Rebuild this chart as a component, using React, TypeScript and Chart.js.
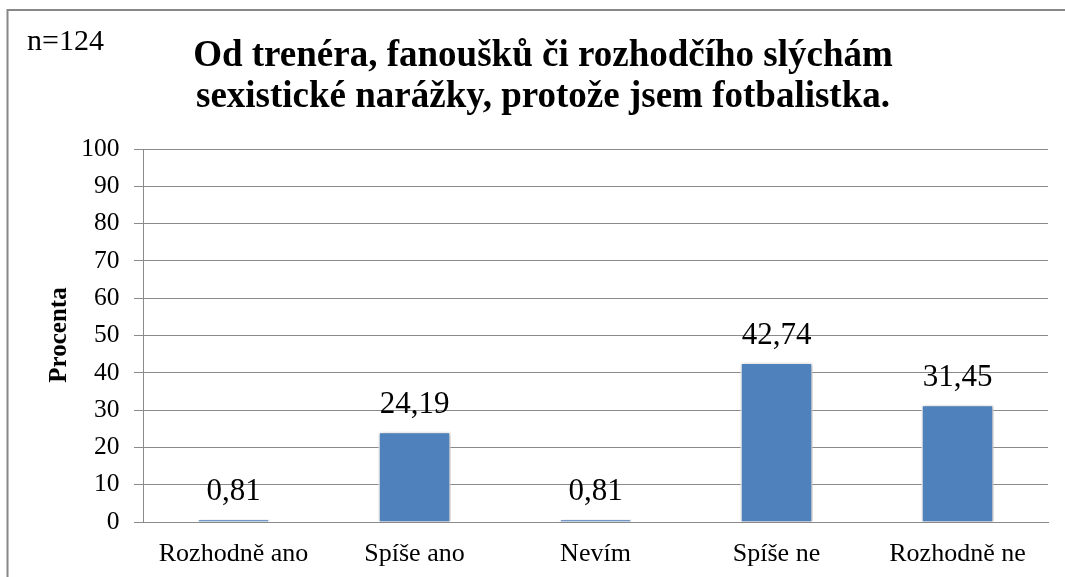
import React, { useEffect, useRef } from "react";
import { Chart, registerables } from "chart.js";

Chart.register(...registerables);

const categories = ["Rozhodně ano", "Spíše ano", "Nevím", "Spíše ne", "Rozhodně ne"];
const values = [0.81, 24.19, 0.81, 42.74, 31.45];
const titleLines = [
  "Od trenéra, fanoušků či rozhodčího slýchám",
  "sexistické narážky, protože jsem fotbalistka.",
];
const sampleNote = "n=124";
const yAxisTitle = "Procenta";

const SERIF = "'Liberation Serif', 'Times New Roman', serif";
const GRID = "#8a8a8a";

const decorPlugin = {
  id: "decor",
  beforeDraw(chart: any) {
    const ctx = chart.ctx;
    ctx.save();
    ctx.fillStyle = "#ffffff";
    ctx.fillRect(0, 0, chart.width, chart.height);
    ctx.strokeStyle = "#888888";
    ctx.lineWidth = 2;
    ctx.strokeRect(7.5, 10, 3000, 3000);
    ctx.restore();
  },
  beforeDatasetsDraw(chart: any) {
    const ctx = chart.ctx;
    ctx.save();
    ctx.shadowColor = "rgba(0,0,0,0.35)";
    ctx.shadowBlur = 4;
    ctx.shadowOffsetX = 1;
    ctx.shadowOffsetY = 1;
  },
  afterDatasetsDraw(chart: any) {
    const ctx = chart.ctx;
    ctx.restore();
    ctx.save();
    ctx.fillStyle = "#000000";
    ctx.textAlign = "center";
    ctx.textBaseline = "alphabetic";
    ctx.font = `31px ${SERIF}`;
    const meta = chart.getDatasetMeta(0);
    meta.data.forEach((bar: any, i: number) => {
      const txt = values[i].toFixed(2).replace(".", ",");
      ctx.fillText(txt, bar.x, bar.y - 19);
    });
    ctx.restore();
  },
  afterDraw(chart: any) {
    const ctx = chart.ctx;
    ctx.save();
    ctx.fillStyle = "#000000";
    ctx.textBaseline = "alphabetic";
    ctx.textAlign = "left";
    ctx.font = `30px ${SERIF}`;
    ctx.fillText(sampleNote, 27, 50);
    ctx.textAlign = "center";
    ctx.font = `bold 37px ${SERIF}`;
    ctx.fillText(titleLines[0], 543, 66);
    ctx.fillText(titleLines[1], 543, 107);
    ctx.translate(66, 335);
    ctx.rotate(-Math.PI / 2);
    ctx.font = `bold 25px ${SERIF}`;
    ctx.fillText(yAxisTitle, 0, 0);
    ctx.restore();
  },
};

export default function App() {
  const ref = useRef<HTMLCanvasElement | null>(null);
  useEffect(() => {
    if (!ref.current) return;
    const chart = new Chart(ref.current, {
      type: "bar",
      data: {
        labels: categories,
        datasets: [
          {
            data: values,
            backgroundColor: "#4F81BD",
            borderColor: "#ffffff",
            borderWidth: 1.5,
            categoryPercentage: 1,
            barPercentage: 0.4,
          },
        ],
      },
      options: {
        responsive: false,
        animation: false,
        devicePixelRatio: 1,
        layout: { padding: { top: 149, right: 17, bottom: 0, left: 0 } },
        plugins: {
          legend: { display: false },
          title: { display: false },
          tooltip: { enabled: false },
        },
        scales: {
          x: {
            grid: { display: false, drawTicks: false },
            border: { display: true, color: GRID, width: 1 },
            ticks: {
              color: "#000000",
              font: { family: SERIF, size: 26 },
              padding: 17,
              maxRotation: 0,
              autoSkip: false,
            },
            afterFit(scale: any) {
              scale.height = 55;
            },
          },
          y: {
            min: 0,
            max: 100,
            grid: { color: GRID, lineWidth: 1, tickLength: 9, drawTicks: true },
            border: { display: true, color: GRID, width: 1 },
            ticks: {
              stepSize: 10,
              color: "#000000",
              font: { family: SERIF, size: 25.5 },
              padding: 14.5,
            },
            afterFit(scale: any) {
              scale.width = 143;
            },
          },
        },
      },
      plugins: [decorPlugin],
    });
    return () => chart.destroy();
  }, []);
  return (
    <div style={{ position: "absolute", left: 0, top: 0, width: 1065, height: 577 }}>
      <canvas ref={ref} width={1065} height={577} style={{ display: "block" }} />
    </div>
  );
}
